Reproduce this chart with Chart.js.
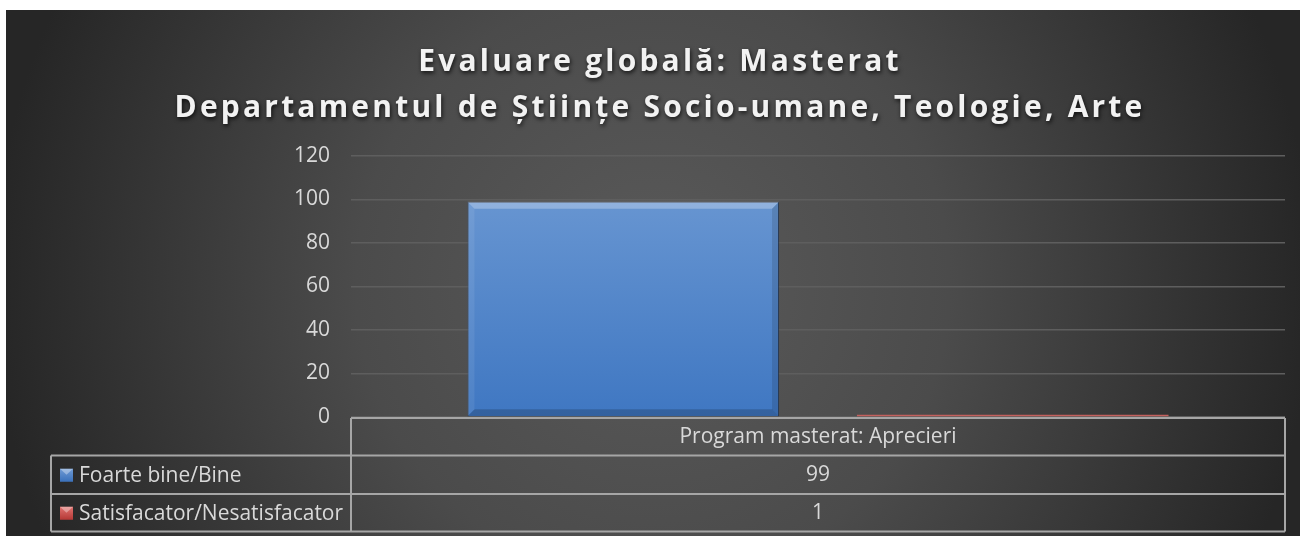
<!DOCTYPE html>
<html>
<head>
<meta charset="utf-8">
<script src="https://cdn.jsdelivr.net/npm/chart.js@4.4.1/dist/chart.umd.min.js"></script>
<style>
  html, body { margin: 0; background: #fff; }
  #box {
    position: absolute; left: 6px; top: 10px; width: 1294px; height: 526px;
    background: radial-gradient(circle 660px at 50% 52%, #5a5a5a 0%, #4b4b4b 45%, #262626 100%);
  }
</style>
</head>
<body>
<div id="box"><canvas id="chart"></canvas></div>
<script>
// date
const titleLines = ['Evaluare globală: Masterat', 'Departamentul de Științe Socio-umane, Teologie, Arte'];
const categories = ['Program masterat: Aprecieri'];
const seriesNames = ['Foarte bine/Bine', 'Satisfacator/Nesatisfacator'];
const goodValues = [99];
const poorValues = [1];
const yMax = 120;
const yStep = 20;

const FONT = '"Open Sans", "Noto Sans", sans-serif';
const TEXT = '#d9d9d9';
const LINE = '#a6a6a6';

function barGradient(ctx, light, dark) {
  const chart = ctx.chart;
  const area = chart.chartArea;
  if (!area) return dark;
  const g = chart.ctx.createLinearGradient(0, area.top, 0, area.bottom);
  g.addColorStop(0, light);
  g.addColorStop(1, dark);
  return g;
}

// titlu cu spatiere intre litere si umbra
const titlePlugin = {
  id: 'bigTitle',
  afterDraw(chart) {
    const ctx = chart.ctx;
    ctx.save();
    ctx.font = 'bold 30px ' + FONT;
    ctx.letterSpacing = '3.2px';
    ctx.textAlign = 'center';
    ctx.textBaseline = 'alphabetic';
    ctx.fillStyle = '#f2f2f2';
    ctx.shadowColor = 'rgba(0,0,0,0.75)';
    ctx.shadowBlur = 4;
    ctx.shadowOffsetY = 2;
    ctx.shadowOffsetX = 1;
    const cx = chart.width / 2 + 7;
    ctx.fillText(titleLines[0], cx, 61);
    ctx.fillText(titleLines[1], cx, 107);
    ctx.restore();
  }
};

// efect de bizou pe bare
const bevelPlugin = {
  id: 'bevel',
  afterDatasetsDraw(chart) {
    const ctx = chart.ctx;
    chart.data.datasets.forEach((ds, i) => {
      chart.getDatasetMeta(i).data.forEach(bar => {
        const l = bar.x - bar.width / 2, r = bar.x + bar.width / 2;
        const t = bar.y, b = bar.base;
        const d = Math.min(7, (b - t) / 2);
        if (d < 2) return;
        ctx.save();
        ctx.fillStyle = 'rgba(255,255,255,0.28)';
        ctx.beginPath();
        ctx.moveTo(l, t); ctx.lineTo(r, t); ctx.lineTo(r - d, t + d); ctx.lineTo(l + d, t + d);
        ctx.closePath(); ctx.fill();
        ctx.fillStyle = 'rgba(0,0,0,0.18)';
        ctx.beginPath();
        ctx.moveTo(l, b); ctx.lineTo(r, b); ctx.lineTo(r - d, b - d); ctx.lineTo(l + d, b - d);
        ctx.closePath(); ctx.fill();
        ctx.fillStyle = 'rgba(0,0,0,0.12)';
        ctx.beginPath();
        ctx.moveTo(r, t); ctx.lineTo(r, b); ctx.lineTo(r - d, b - d); ctx.lineTo(r - d, t + d);
        ctx.closePath(); ctx.fill();
        ctx.fillStyle = 'rgba(255,255,255,0.08)';
        ctx.beginPath();
        ctx.moveTo(l, t); ctx.lineTo(l, b); ctx.lineTo(l + d, b - d); ctx.lineTo(l + d, t + d);
        ctx.closePath(); ctx.fill();
        ctx.restore();
      });
    });
  }
};

// tabelul de date sub grafic
const tablePlugin = {
  id: 'dataTable',
  afterDraw(chart) {
    const ctx = chart.ctx;
    const a = chart.chartArea;
    const xs = chart.scales.x;
    const rowH = 37.5;
    const legendLeft = 45;
    const y0 = a.bottom + 1, y1 = y0 + rowH, y2 = y1 + rowH + 1, y3 = y2 + rowH;
    const swatch = [['#6f9ad4', '#3e74bd'], ['#e07370', '#b83c39']];
    const rows = [goodValues, poorValues];

    ctx.save();
    ctx.strokeStyle = LINE;
    ctx.lineWidth = 2;
    ctx.beginPath();
    ctx.moveTo(a.left, y0); ctx.lineTo(a.right, y0);
    ctx.moveTo(legendLeft, y1); ctx.lineTo(a.right, y1);
    ctx.moveTo(legendLeft, y2); ctx.lineTo(a.right, y2);
    ctx.moveTo(legendLeft, y3); ctx.lineTo(a.right, y3);
    ctx.moveTo(a.left, y0); ctx.lineTo(a.left, y3);
    ctx.moveTo(a.right, y0); ctx.lineTo(a.right, y3);
    ctx.moveTo(legendLeft, y1); ctx.lineTo(legendLeft, y3);
    categories.forEach((c, i) => {
      if (i === 0) return;
      const xb = (xs.getPixelForTick(i - 1) + xs.getPixelForTick(i)) / 2;
      ctx.moveTo(xb, y0); ctx.lineTo(xb, y3);
    });
    ctx.stroke();

    ctx.font = '21px ' + FONT;
    ctx.fillStyle = TEXT;
    ctx.textBaseline = 'middle';
    ctx.textAlign = 'center';
    categories.forEach((c, i) => {
      const cx = xs.getPixelForTick(i);
      ctx.fillText(c, cx, (y0 + y1) / 2);
      ctx.fillText(String(rows[0][i]), cx, (y1 + y2) / 2);
      ctx.fillText(String(rows[1][i]), cx, (y2 + y3) / 2);
    });

    ctx.textAlign = 'left';
    [[y1, y2], [y2, y3]].forEach(([ta, tb], k) => {
      const my = (ta + tb) / 2;
      const g = ctx.createLinearGradient(0, my - 6, 0, my + 6);
      g.addColorStop(0, swatch[k][0]);
      g.addColorStop(1, swatch[k][1]);
      ctx.fillStyle = g;
      ctx.fillRect(54, my - 6, 13, 13);
      ctx.fillStyle = 'rgba(255,255,255,0.35)';
      ctx.beginPath();
      ctx.moveTo(54, my - 6); ctx.lineTo(67, my - 6); ctx.lineTo(60.5, my);
      ctx.closePath(); ctx.fill();
      ctx.fillStyle = TEXT;
      ctx.fillText(seriesNames[k], 73, my + 1);
    });
    ctx.restore();
  }
};

new Chart(document.getElementById('chart'), {
  type: 'bar',
  data: {
    labels: categories,
    datasets: [
      {
        label: seriesNames[0],
        data: goodValues,
        backgroundColor: c => barGradient(c, '#6f9bd4', '#3f77c2'),
        borderColor: 'rgba(30,55,95,0.7)',
        borderWidth: 1
      },
      {
        label: seriesNames[1],
        data: poorValues,
        backgroundColor: '#c4615e',
        borderColor: '#c4615e',
        borderWidth: 0
      }
    ]
  },
  plugins: [titlePlugin, bevelPlugin, tablePlugin],
  options: {
    responsive: true,
    maintainAspectRatio: false,
    animation: false,
    layout: { padding: { top: 146, right: 15, bottom: 119, left: 0 } },
    datasets: { bar: { barPercentage: 0.8, categoryPercentage: 0.834 } },
    plugins: {
      legend: { display: false },
      title: { display: false },
      tooltip: { enabled: false }
    },
    scales: {
      x: { display: false },
      y: {
        min: 0,
        max: yMax,
        ticks: { stepSize: yStep, padding: 21, color: TEXT, font: { family: FONT, size: 21 } },
        grid: { color: '#5e5e5e', lineWidth: 1.5, drawTicks: false },
        border: { display: false },
        afterFit(scale) { scale.width = 345; }
      }
    }
  }
});
</script>
</body>
</html>
